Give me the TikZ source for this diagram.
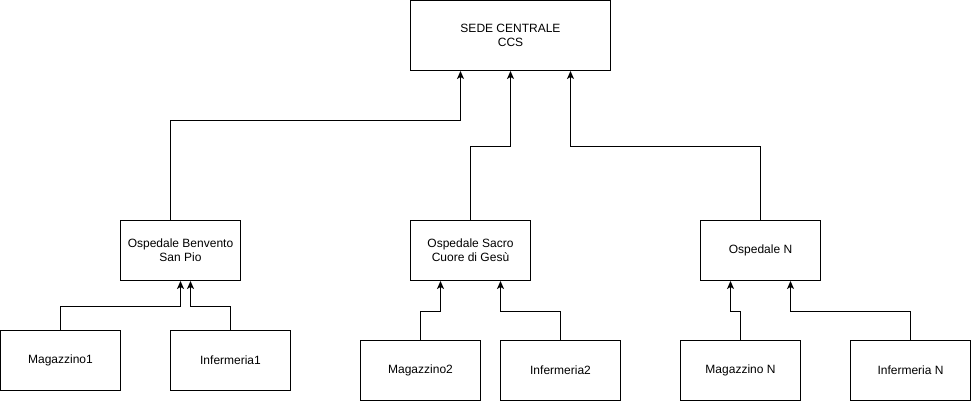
\documentclass[tikz,border=0pt]{standalone}
\usepackage{fontspec}
\setmainfont{Liberation Sans}
\usetikzlibrary{calc,arrows.meta}
\begin{document}
\begin{tikzpicture}[x=1pt,y=-1pt,
  box/.style={draw=black,line width=1pt,rectangle,minimum width=120pt,minimum height=60pt,inner sep=0pt,align=center,font=\fontsize{12pt}{14pt}\selectfont},
  arr/.style={draw=black,line width=1pt,-{Stealth[length=8pt,width=7pt,inset=2pt]}}]
\useasboundingbox (0,0) rectangle (971,401);
\node[box,minimum width=200pt,minimum height=70pt] (sede) at (510.5,35.5) {SEDE CENTRALE\\CCS};
\node[box] (osp1) at (180.5,250.5) {Ospedale Benvento\\San Pio};
\node[box] (osp2) at (470.5,250.5) {Ospedale Sacro\\Cuore di Gesù};
\node[box] (ospN) at (760.5,250.5) {Ospedale N};
\node[box] (mag1) at (60.5,360.5) {Magazzino1};
\node[box] (inf1) at (230.5,360.5) {Infermeria1};
\node[box] (mag2) at (420.5,370.5) {Magazzino2};
\node[box] (inf2) at (560.5,370.5) {Infermeria2};
\node[box] (magN) at (740.5,370.5) {Magazzino N};
\node[box] (infN) at (910.5,370.5) {Infermeria N};
\draw[arr] ($(osp1.north)+(-10,0)$) |- ($(sede.south)+(-50,50)$) -- ($(sede.south)+(-50,0)$);
\draw[arr] (osp2.north) |- ($(sede.south)+(0,75)$) -- (sede.south);
\draw[arr] (ospN.north) |- ($(sede.south)+(60,75)$) -- ($(sede.south)+(60,0)$);
\draw[arr] (mag1.north) |- ($(osp1.south)+(0,25)$) -- (osp1.south);
\draw[arr] (inf1.north) |- ($(osp1.south)+(10,25)$) -- ($(osp1.south)+(10,0)$);
\draw[arr] (mag2.north) |- ($(osp2.south)+(-30,30)$) -- ($(osp2.south)+(-30,0)$);
\draw[arr] (inf2.north) |- ($(osp2.south)+(30,30)$) -- ($(osp2.south)+(30,0)$);
\draw[arr] (magN.north) |- ($(ospN.south)+(-30,30)$) -- ($(ospN.south)+(-30,0)$);
\draw[arr] (infN.north) |- ($(ospN.south)+(30,30)$) -- ($(ospN.south)+(30,0)$);
\end{tikzpicture}
\end{document}
